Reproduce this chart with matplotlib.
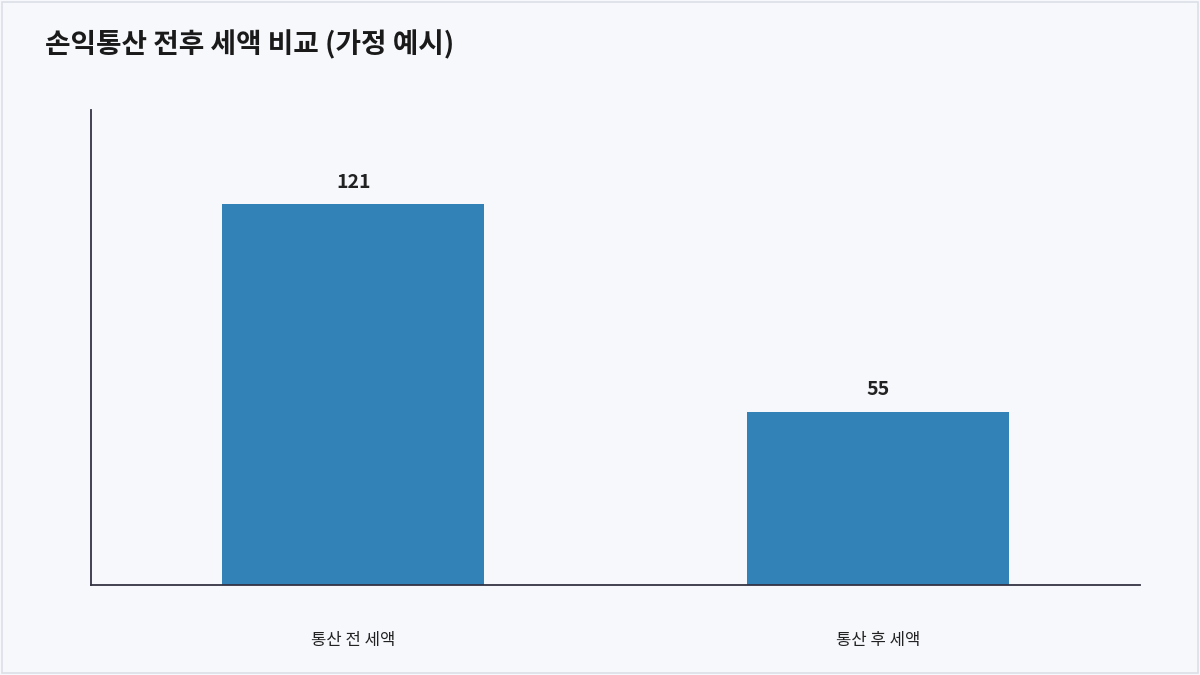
import matplotlib.pyplot as plt
from matplotlib.patches import FancyBboxPatch

plt.rcParams['font.family'] = ['Noto Sans CJK KR', 'DejaVu Sans']

categories = ["통산 전 세액", "통산 후 세액"]
values = [121, 55]
title = "손익통산 전후 세액 비교 (가정 예시)"

bg = "#f7f8fc"
fig = plt.figure(figsize=(12, 6.75), dpi=100, facecolor=bg)
fig.patches.append(FancyBboxPatch((0.002, 0.003), 0.996, 0.994, boxstyle="square,pad=0",
                                  transform=fig.transFigure, fill=False,
                                  edgecolor="#dcdfe6", linewidth=1.2))
ax = fig.add_axes([91 / 1200, 1 - 585 / 675, (1140 - 91) / 1200, (585 - 110) / 675])
ax.set_facecolor(bg)

x = range(len(categories))
ax.bar(x, values, width=0.5, color="#3282b8")
for xi, v in zip(x, values):
    ax.text(xi, v + 4, str(v), ha="center", va="bottom", fontsize=14,
            fontweight="bold", color="#222222")

ax.set_xlim(-0.5, 1.5)
ax.set_ylim(0, 151)
ax.set_xticks(list(x))
ax.set_xticklabels(categories, fontsize=12, color="#222222")
ax.tick_params(axis="x", length=0, pad=34)
ax.set_yticks([])
for s in ["top", "right"]:
    ax.spines[s].set_visible(False)
for s in ["left", "bottom"]:
    ax.spines[s].set_color("#333344")
    ax.spines[s].set_linewidth(1.3)

fig.text(45 / 1200, 1 - 45 / 675, title, fontsize=20, fontweight="bold",
         color="#1a1a1a", va="center", ha="left")

fig.savefig("out.png", dpi=100, facecolor=bg)
